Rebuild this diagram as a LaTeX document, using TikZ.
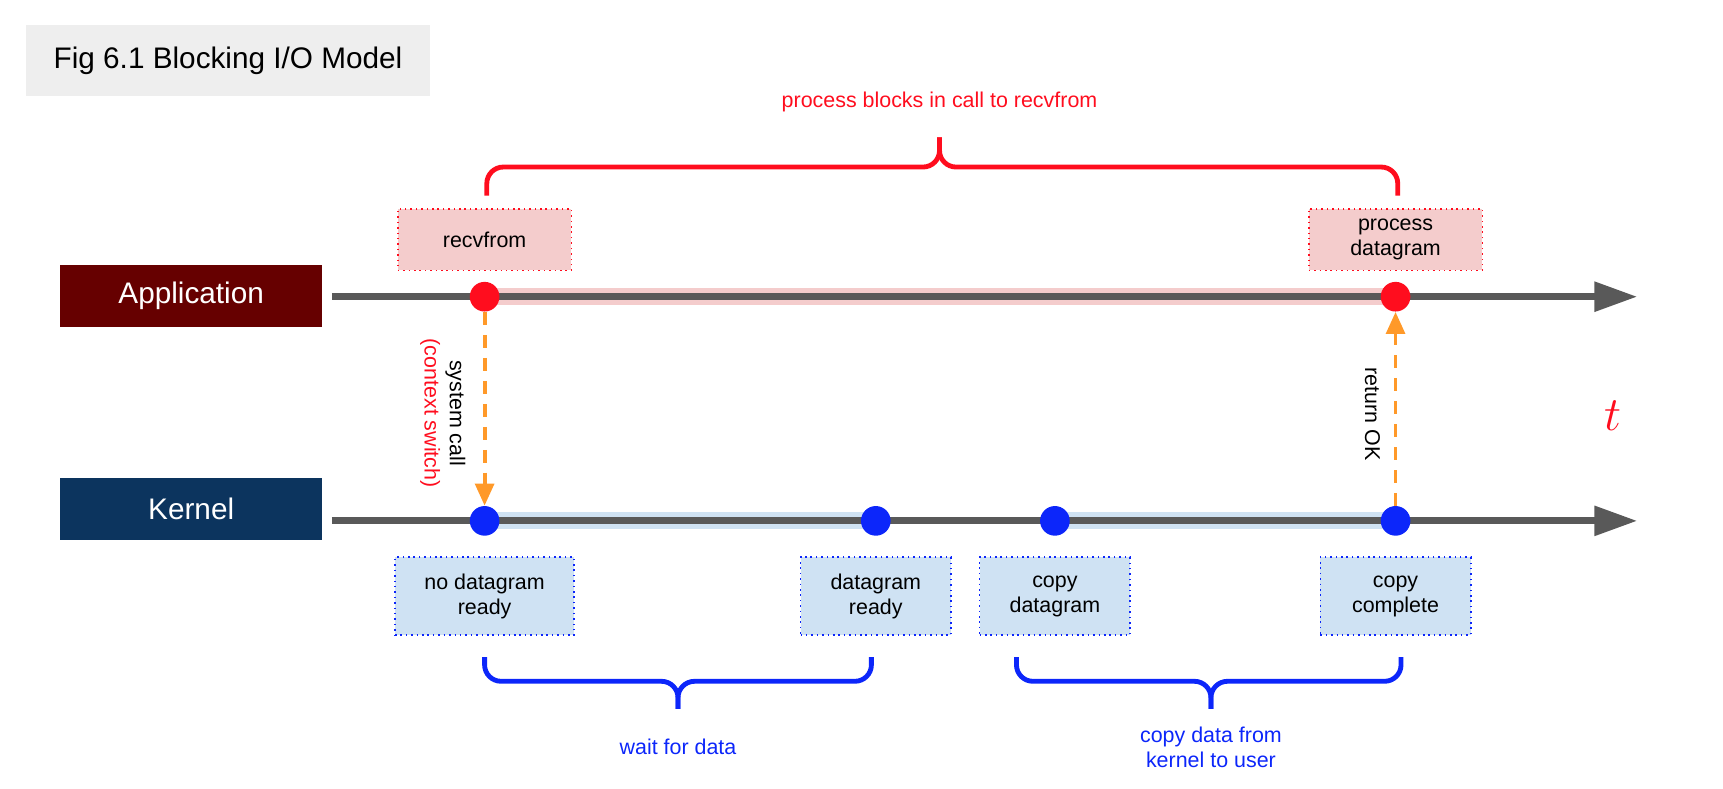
\documentclass[tikz,border=0pt]{standalone}
\usepackage{fontspec}
\setmainfont{Liberation Sans}
\usepackage{tikz}
\usetikzlibrary{positioning, arrows.meta}

\definecolor{titlegray}{RGB}{238,238,238}
\definecolor{appred}{RGB}{102,0,0}
\definecolor{kernblue}{RGB}{12,52,94}
\definecolor{timegray}{RGB}{89,89,89}
\definecolor{appband}{RGB}{244,204,204}
\definecolor{kernband}{RGB}{207,226,243}
\definecolor{dotred}{RGB}{255,13,30}
\definecolor{dotblue}{RGB}{12,38,250}
\definecolor{callorange}{RGB}{255,153,41}

\begin{document}
\begin{tikzpicture}[x=0.02cm, y=-0.02cm,
    txt/.style={font=\fontsize{11.1}{13}\selectfont, align=center},
    bigtxt/.style={font=\fontsize{15.4}{18}\selectfont},
    lane/.style={bigtxt, fill=#1, text=white, minimum width=4.76cm, minimum height=1.13cm},
    appnote/.style={txt, fill=appband, draw=dotred, dotted, line width=0.8pt, minimum width=3.16cm, minimum height=1.12cm},
    kernnote/.style={txt, fill=kernband, draw=dotblue, dotted, line width=0.8pt, minimum height=1.42cm},
    timeline/.style={line width=3.6pt, timegray, -{Triangle[length=0.78cm, width=0.52cm]}},
    band/.style={line width=8.8pt, #1},
    reddot/.style={circle, fill=dotred, inner sep=0pt, minimum size=0.54cm},
    bluedot/.style={circle, fill=dotblue, inner sep=0pt, minimum size=0.54cm},
    sysarrow/.style={callorange, line width=2pt, dash pattern=on 6.8pt off 5.1pt, -{Triangle[length=0.4cm, width=0.34cm]}},
    brace/.style={line width=2.5pt, rounded corners=0.3cm, #1}
]
    \useasboundingbox (0,0) rectangle (1568,718);

    % title
    \node (title) [bigtxt, fill=titlegray, minimum width=7.34cm, minimum height=1.28cm] at (207.5,55) {Fig 6.1 Blocking I/O Model};

    % lanes
    \node (app) [lane=appred] at (174,269.5) {Application};
    \node (kern) [lane=kernblue] at (174,463.5) {Kernel};

    % time axes
    \coordinate (appstart) at (302,270);
    \coordinate (append) at (1490,270);
    \coordinate (kernstart) at (302,474);
    \coordinate (kernend) at (1490,474);

    \coordinate (r1c) at (441,270);
    \coordinate (r2c) at (1270,270);
    \coordinate (b1c) at (441,474);
    \coordinate (b2c) at (797,474);
    \coordinate (b3c) at (960,474);
    \coordinate (b4c) at (1270,474);

    \draw [band=appband] (r1c) -- (r2c);
    \draw [band=kernband] (b1c) -- (b2c);
    \draw [band=kernband] (b3c) -- (b4c);
    \draw [timeline] (appstart) -- (append);
    \draw [timeline] (kernstart) -- (kernend);

    \node (r1) [reddot] at (r1c) {};
    \node (r2) [reddot] at (r2c) {};
    \node (b1) [bluedot] at (b1c) {};
    \node (b2) [bluedot] at (b2c) {};
    \node (b3) [bluedot] at (b3c) {};
    \node (b4) [bluedot] at (b4c) {};

    % notes
    \node (recv) [appnote, above=0.19cm of r1] {recvfrom};
    \node (procdg) [appnote, above=0.19cm of r2] {process\\datagram};
    \node (nodata) [kernnote, minimum width=3.26cm, below=0.37cm of b1] {no datagram\\ready};
    \node (dgready) [kernnote, minimum width=2.74cm, below=0.37cm of b2] {datagram\\ready};
    \node (copydg) [kernnote, minimum width=2.74cm, below=0.37cm of b3] {copy\\datagram};
    \node (copydone) [kernnote, minimum width=2.74cm, below=0.37cm of b4] {copy\\complete};

    % calls
    \draw [sysarrow] (r1) -- (b1);
    \draw [sysarrow] (b4) -- (r2);
    \node (syscall) [txt, rotate=-90] at (403,376) {system call\\\textcolor{dotred}{(context switch)}};
    \node (retok) [txt, rotate=-90] at (1249,377) {return OK};
    \node (tlabel) [text=dotred, font=\fontsize{40}{40}\selectfont] at (1468,378) {$t$};

    % braces
    \draw [brace=dotred] (443,178) -- (443,152) -- (855,152) -- (855,125);
    \draw [brace=dotred] (1272,178) -- (1272,152) -- (855,152) -- (855,125);
    \node (blocklbl) [txt, text=dotred] at (855,93) {process blocks in call to recvfrom};

    \draw [brace=dotblue] (441,598) -- (441,620) -- (617,620) -- (617,645);
    \draw [brace=dotblue] (793,598) -- (793,620) -- (617,620) -- (617,645);
    \node (waitlbl) [txt, text=dotblue] at (617,680) {wait for data};

    \draw [brace=dotblue] (925,598) -- (925,620) -- (1102,620) -- (1102,645);
    \draw [brace=dotblue] (1275,598) -- (1275,620) -- (1102,620) -- (1102,645);
    \node (copylbl) [txt, text=dotblue] at (1102,680) {copy data from\\kernel to user};
\end{tikzpicture}
\end{document}
